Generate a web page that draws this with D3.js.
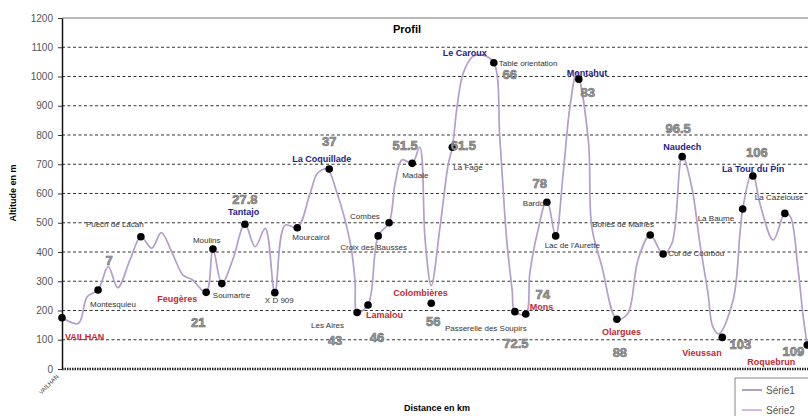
<!DOCTYPE html>
<html>
<head>
<meta charset="UTF-8">
<style>
body{margin:0;background:#fff;}
svg{display:block;font-family:"Liberation Sans",Arial,sans-serif;}
</style>
</head>
<body>
<svg></svg>
<script src="https://d3js.org/d3.v7.min.js"></script>
<script>

// Série2 : the profile line (distance, altitude)
const profileKm = [0,2.4,3.7,5.3,6.8,8.2,10.0,11.6,13.2,14.6,16.2,17.8,19.1,21.2,22.2,23.5,25.1,26.9,28.4,29.9,
  31.3,32.8,34.6,36.5,37.6,39.0,40.3,42.4,43.1,43.4,45.0,46.5,48.1,49.0,50.0,51.5,52.6,53.4,54.3,55.6,
  56.8,57.4,58.1,59.0,60.4,61.9,63.5,64.4,65.4,66.2,66.6,68.2,68.8,70.0,71.3,72.6,73.7,74.7,75.7,77.4,
  77.9,79.4,81.6,83.2,84.7,86.5,88.4,89.7,91.2,92.6,93.8,95.0,95.7,96.6,98.7,99.7,100.1,101.5,102.7,104.6,
  106.3,107.1,108.2,109.0,109.6];
const profileAlt = [175,156,247,270,350,278,373,452,413,466,397,321,306,262,410,292,373,495,418,481,
  261,492,483,602,670,683,612,430,300,193,219,455,500,636,715,703,758,441,285,487,
  700,758,897,1011,1068,1073,1047,783,441,270,196,188,328,475,578,455,669,897,1013,783,
  487,350,170,190,373,458,393,430,730,623,430,259,145,120,236,464,547,675,560,441,
  532,521,350,179,82];

// Série1 : named points
const stopNames = ["VAILHAN","Montesquieu","Puech de Lacan","Feugères","Moulins","Soumartre","Tantajo","X D 909",
  "Mourcairol","La Coquillade","Les Aires","Lamalou","Croix des Bausses","Combes","Madale","Colombières","La Fage",
  "Table orientation","Passerelle des Soupirs","Mons","Bardou","Lac de l'Aurette","Montahut","Olargues",
  "Bories de Mairies","Col de Courbou","Naudech","Vieussan","La Baume","La Tour du Pin","La Cazelouse","Roquebrun"];
const stopKm = [0,5.3,11.6,21.2,22.2,23.5,26.9,31.3,34.6,39.3,43.4,45.0,46.5,48.1,51.5,54.3,57.4,
  63.5,66.6,68.2,71.3,72.6,76.0,81.6,86.5,88.4,91.2,97.1,100.1,101.6,106.3,109.6];
const stopAlt = [175,270,452,262,410,292,495,261,483,684,193,219,455,500,703,225,758,
  1047,196,188,570,455,991,170,458,393,726,108,547,660,532,82];
const villages = ["VAILHAN","Feugères","Lamalou","Colombières","Mons","Olargues","Vieussan","Roquebrun"];
const summits = ["Tantajo","La Coquillade","Le Caroux","Montahut","Naudech","La Tour du Pin"];

// extra summit name sharing a point
const extraNames = ["Le Caroux"];
const extraAt = ["Table orientation"];

// kilometre marks
const kmMarks = ["7","21","27.8","37","43","46","51.5","56","61.5","66","72.5","74","78","83","88","96.5","103","106","109"];
const kmMarkAt = ["Montesquieu","Feugères","Tantajo","La Coquillade","Les Aires","Lamalou","Madale","Colombières",
  "La Fage","Table orientation","Passerelle des Soupirs","Mons","Bardou","Montahut","Olargues","Naudech",
  "Vieussan","La Tour du Pin","Roquebrun"];

const yTicks = [0,100,200,300,400,500,600,700,800,900,1000,1100,1200];
const xCategories = ["VAILHAN"];

// label placement (offsets from the point, in px)
const nameOffset = {
  "VAILHAN":[3,22],"Montesquieu":[-8,17],"Puech de Lacan":[-55,-10],"Feugères":[-49,10],"Moulins":[-20,-6],
  "Soumartre":[-9,14],"Tantajo":[-17,-9],"X D 909":[-10,10],"Mourcairol":[-5,12],"La Coquillade":[-37,-7],
  "Les Aires":[-46,15],"Lamalou":[-2,13],"Croix des Bausses":[-38,14],"Combes":[-39,-4],"Madale":[-10,15],
  "Colombières":[-38,-7],"La Fage":[1,23],"Table orientation":[5,3],"Passerelle des Soupirs":[-70,19],
  "Mons":[4,-4],"Bardou":[-24,4],"Lac de l'Aurette":[-11,12],"Montahut":[-12,-3],"Olargues":[-15,16],
  "Bories de Mairies":[-58,-8],"Col de Courbou":[5,2],"Naudech":[-19,-7],"Vieussan":[-40,19],
  "La Baume":[-45,12],"La Tour du Pin":[-31,-4],"La Cazelouse":[-30,-13],"Roquebrun":[-60,20],
  "Le Caroux":[-51,-7]
};
const markOffset = {
  "7":[11,-28],"21":[-8,31],"27.8":[0,-24],"37":[0,-26],"43":[-22,29],"46":[9,34],"51.5":[-7,-17],
  "56":[2,19],"61.5":[11,-1],"66":[16,13],"72.5":[1,33],"74":[17,-18],"78":[-7,-18],"83":[9,14],
  "88":[3,34],"96.5":[-4,-27],"103":[18,8],"106":[4,-22],"109":[-14,8]
};

const W = 808, H = 416;
const svg = d3.select("svg").attr("width", W).attr("height", H);

const x = d3.scaleLinear().domain([0, 110]).range([62, 810]);
const y = d3.scaleLinear().domain([0, 1200]).range([369, 18]);

// grid
svg.append("g").selectAll("line")
  .data(yTicks.filter(d => d > 0 && d < 1200))
  .enter().append("line")
  .attr("x1", 62).attr("x2", W)
  .attr("y1", d => y(d)).attr("y2", d => y(d))
  .attr("stroke", "#333").attr("stroke-width", 1).attr("stroke-dasharray", "3,2.5");

svg.append("line")
  .attr("x1", 62).attr("x2", W).attr("y1", y(1200)).attr("y2", y(1200))
  .attr("stroke", "#777").attr("stroke-width", 1.2);

// x axis (dense category ticks)
svg.append("line")
  .attr("x1", 62).attr("x2", W).attr("y1", y(0)).attr("y2", y(0))
  .attr("stroke", "#222").attr("stroke-width", 2.5).attr("stroke-dasharray", "1.5,1");

// y axis
const yAxis = svg.append("g")
  .attr("transform", "translate(62,0)")
  .call(d3.axisLeft(y).tickValues(yTicks).tickFormat(d3.format("d")).tickSize(4).tickSizeOuter(0).tickPadding(5));
yAxis.select(".domain").attr("stroke", "#111").attr("stroke-width", 1.5);
yAxis.selectAll(".tick line").attr("stroke", "#333");
yAxis.selectAll(".tick text").attr("fill", "#555").style("font-size", "10px")
  .style("font-family", "'Liberation Sans',Arial,sans-serif");

// category label
svg.append("g").selectAll("text").data(xCategories).enter().append("text")
  .attr("transform", (d, i) => "translate(" + (x(0) - 3) + "," + (y(0) + 8) + ") rotate(-45)")
  .attr("text-anchor", "end").style("font-size", "6px").attr("fill", "#333").text(d => d);

// profile line
const profile = profileKm.map((k, i) => [k, profileAlt[i]]);
svg.append("path")
  .datum(profile)
  .attr("fill", "none")
  .attr("stroke", "#b59dcc")
  .attr("stroke-width", 1.7)
  .attr("d", d3.line().x(d => x(d[0])).y(d => y(d[1])).curve(d3.curveCatmullRom.alpha(0.5)));

// points
const stops = stopNames.map((n, i) => ({name: n, km: stopKm[i], alt: stopAlt[i]}));
const byName = {};
stops.forEach(s => byName[s.name] = s);

svg.append("g").selectAll("circle").data(stops).enter().append("circle")
  .attr("cx", d => x(d.km)).attr("cy", d => y(d.alt)).attr("r", 3.8).attr("fill", "#000");

// km marks
svg.append("g").selectAll("text").data(kmMarks).enter().append("text")
  .attr("x", (d, i) => x(byName[kmMarkAt[i]].km) + markOffset[d][0])
  .attr("y", (d, i) => y(byName[kmMarkAt[i]].alt) + markOffset[d][1])
  .attr("text-anchor", "middle").attr("dominant-baseline", "middle")
  .style("font-size", "13px").style("font-weight", "bold")
  .attr("fill", "#a0a0a0").attr("stroke", "#6a6a6a").attr("stroke-width", 0.6)
  .text(d => d);

// names
const labels = stops.map(s => ({text: s.name, s: s}))
  .concat(extraNames.map((n, i) => ({text: n, s: byName[extraAt[i]]})));
const isBold = t => villages.includes(t) || summits.includes(t);

svg.append("g").selectAll("text").data(labels).enter().append("text")
  .attr("x", d => x(d.s.km) + nameOffset[d.text][0])
  .attr("y", d => y(d.s.alt) + nameOffset[d.text][1])
  .style("font-size", d => isBold(d.text) ? "9px" : "8px")
  .style("font-weight", d => isBold(d.text) ? "bold" : "normal")
  .attr("fill", d => villages.includes(d.text) ? "#c62a2f" : summits.includes(d.text) ? "#23238e" : "#333")
  .text(d => d.text);

// titles
svg.append("text").attr("x", 407).attr("y", 33).attr("text-anchor", "middle")
  .style("font-size", "11px").style("font-weight", "bold").text("Profil");
svg.append("text").attr("x", 437).attr("y", 411).attr("text-anchor", "middle")
  .style("font-size", "9px").style("font-weight", "bold").text("Distance en km");
svg.append("text").attr("transform", "translate(16,193) rotate(-90)").attr("text-anchor", "middle")
  .style("font-size", "9px").style("font-weight", "bold").text("Altitude en m");

// legend
const legend = svg.append("g");
legend.append("rect").attr("x", 735).attr("y", 378).attr("width", 80).attr("height", 45)
  .attr("fill", "#fff").attr("stroke", "#888");
const legendItems = [["Série1", "#8c86a4"], ["Série2", "#c4a2dc"]];
legendItems.forEach((d, i) => {
  legend.append("line").attr("x1", 742).attr("x2", 762)
    .attr("y1", 390 + i * 20).attr("y2", 390 + i * 20)
    .attr("stroke", d[1]).attr("stroke-width", 1.5);
  legend.append("text").attr("x", 766).attr("y", 394 + i * 20)
    .style("font-size", "10px").attr("fill", "#555").text(d[0]);
});
</script>
</body>
</html>
